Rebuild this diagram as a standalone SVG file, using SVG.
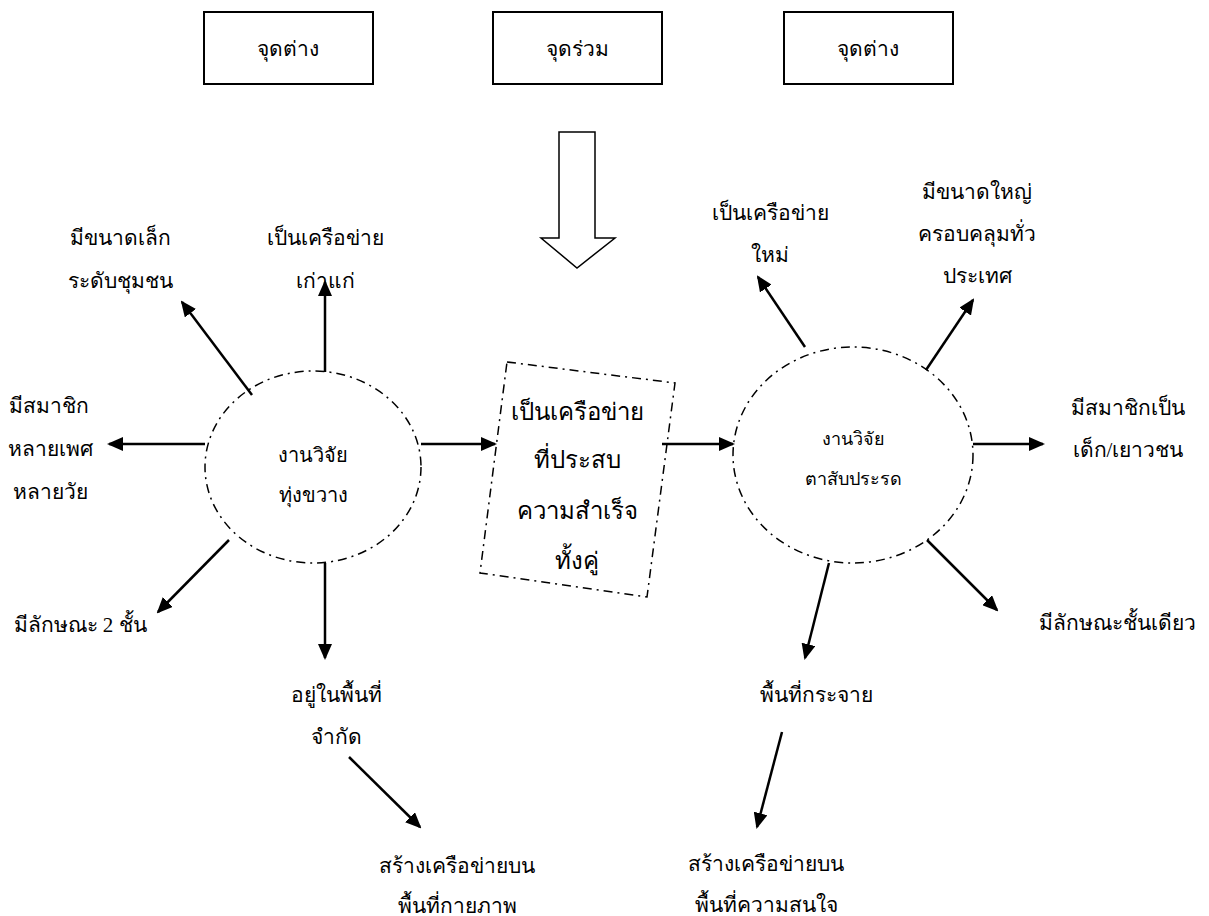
<svg xmlns="http://www.w3.org/2000/svg" width="1209" height="916" viewBox="0 0 1209 916">
  <style>
    text { font-family: "Liberation Serif", "DejaVu Serif", serif; font-size: 21px; fill: #000; text-anchor: middle; }
    .big { font-size: 24px; }
    .ring-left { font-size: 20px; }
    .ring-right { font-size: 18px; }
    .box { fill: #fff; stroke: #000; stroke-width: 2; }
    .dashed { fill: none; stroke: #000; stroke-width: 1.5; stroke-dasharray: 9 5 2 5; }
    .arrow { stroke: #000; stroke-width: 2.5; fill: none; marker-end: url(#head); }
    .block { fill: #fff; stroke: #000; stroke-width: 1.5; stroke-linejoin: miter; }
  </style>
  <defs>
    <marker id="head" markerUnits="userSpaceOnUse" markerWidth="16" markerHeight="14" refX="14" refY="7" orient="auto">
      <path d="M0,0 L16,7 L0,14 z" fill="#000"/>
    </marker>
  </defs>
  <rect width="1209" height="916" fill="#fff"/>

  <!-- header boxes -->
  <g id="header-diff-left">
    <rect class="box" x="204" y="12" width="169" height="72"/>
    <text x="288" y="56">จุดต่าง</text>
  </g>
  <g id="header-common">
    <rect class="box" x="493" y="12" width="169" height="72"/>
    <text x="577" y="56">จุดร่วม</text>
  </g>
  <g id="header-diff-right">
    <rect class="box" x="784" y="12" width="169" height="72"/>
    <text x="868" y="56">จุดต่าง</text>
  </g>

  <!-- hollow block arrow pointing down to the shared result -->
  <g id="block-arrow">
    <path class="block" d="M559,132 L595,132 L595,238 L615,238 L577,268 L541,238 L559,238 Z"/>
  </g>

  <!-- left research network -->
  <g id="node-left">
    <ellipse class="dashed" cx="313" cy="467" rx="108" ry="96"/>
    <text class="ring-left" x="313" y="462">งานวิจัย</text>
    <text class="ring-left" x="313" y="502">ทุ่งขวาง</text>
  </g>

  <!-- right research network -->
  <g id="node-right">
    <ellipse class="dashed" cx="853" cy="455" rx="120" ry="108"/>
    <text class="ring-right" x="853" y="445">งานวิจัย</text>
    <text class="ring-right" x="853" y="485">ตาสับประรด</text>
  </g>

  <!-- shared characteristic, tilted dashed box -->
  <g id="node-common">
    <polygon class="dashed" points="507,362 675,383 647,597 480,573"/>
    <text class="big" x="577" y="420">เป็นเครือข่าย</text>
    <text class="big" x="577" y="468">ที่ประสบ</text>
    <text class="big" x="577" y="519">ความสำเร็จ</text>
    <text class="big" x="577" y="569">ทั้งคู่</text>
  </g>

  <!-- left-side attributes -->
  <g id="left-small">
    <text x="120" y="245">มีขนาดเล็ก</text>
    <text x="120" y="288">ระดับชุมชน</text>
  </g>
  <g id="left-old">
    <text x="325" y="245">เป็นเครือข่าย</text>
    <text x="325" y="288">เก่าแก่</text>
  </g>
  <g id="left-members">
    <text x="49" y="413">มีสมาชิก</text>
    <text x="50" y="456">หลายเพศ</text>
    <text x="50" y="499">หลายวัย</text>
  </g>
  <g id="left-two-tier">
    <text x="80" y="632">มีลักษณะ 2 ชั้น</text>
  </g>
  <g id="left-limited-area">
    <text x="336" y="702">อยู่ในพื้นที่</text>
    <text x="336" y="744">จำกัด</text>
  </g>
  <g id="left-physical">
    <text x="457" y="873">สร้างเครือข่ายบน</text>
    <text x="457" y="913">พื้นที่กายภาพ</text>
  </g>

  <!-- right-side attributes -->
  <g id="right-new">
    <text x="770" y="220">เป็นเครือข่าย</text>
    <text x="770" y="262">ใหม่</text>
  </g>
  <g id="right-large">
    <text x="977" y="199">มีขนาดใหญ่</text>
    <text x="977" y="241">ครอบคลุมทั่ว</text>
    <text x="977" y="283">ประเทศ</text>
  </g>
  <g id="right-members">
    <text x="1128" y="415">มีสมาชิกเป็น</text>
    <text x="1128" y="457">เด็ก/เยาวชน</text>
  </g>
  <g id="right-single-tier">
    <text x="1117" y="630">มีลักษณะชั้นเดียว</text>
  </g>
  <g id="right-scattered">
    <text x="816" y="702">พื้นที่กระจาย</text>
  </g>
  <g id="right-interest">
    <text x="766" y="871">สร้างเครือข่ายบน</text>
    <text x="766" y="912">พื้นที่ความสนใจ</text>
  </g>

  <!-- connectors -->
  <g id="connectors">
    <line class="arrow" x1="325" y1="372" x2="325" y2="282"/>
    <line class="arrow" x1="252" y1="395" x2="182" y2="302"/>
    <line class="arrow" x1="205" y1="444" x2="109" y2="444"/>
    <line class="arrow" x1="229" y1="540" x2="158" y2="612"/>
    <line class="arrow" x1="325" y1="563" x2="325" y2="658"/>
    <line class="arrow" x1="349" y1="757" x2="420" y2="827"/>
    <line class="arrow" x1="421" y1="444" x2="495" y2="444"/>
    <line class="arrow" x1="662" y1="444" x2="733" y2="444"/>
    <line class="arrow" x1="805" y1="347" x2="758" y2="277"/>
    <line class="arrow" x1="926" y1="370" x2="973" y2="300"/>
    <line class="arrow" x1="973" y1="444" x2="1043" y2="444"/>
    <line class="arrow" x1="927" y1="540" x2="997" y2="610"/>
    <line class="arrow" x1="829" y1="563" x2="805" y2="658"/>
    <line class="arrow" x1="782" y1="732" x2="757" y2="827"/>
  </g>
</svg>
